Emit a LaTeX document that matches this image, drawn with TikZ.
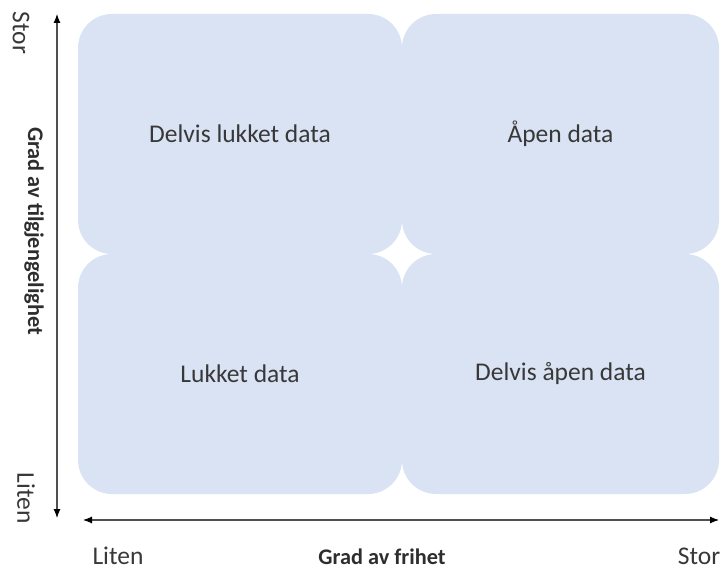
\documentclass[tikz,border=0pt]{standalone}
\usepackage{fontspec}
\setmainfont{Carlito}
\usetikzlibrary{arrows.meta}
\definecolor{quadfill}{HTML}{DAE3F3}
\definecolor{labeltext}{HTML}{383838}
\definecolor{axisline}{HTML}{505050}
\begin{document}
\begin{tikzpicture}[x=1pt,y=-1pt,
  quad/.style={fill=quadfill, rounded corners=34pt, inner sep=0pt,
    text=labeltext, font=\fontsize{25.5}{30}\selectfont},
  axisarrow/.style={axisline, line width=1.1pt,
    {Latex[length=9pt,width=7pt,black]}-{Latex[length=9pt,width=7pt,black]}},
  axislabel/.style={text=labeltext, font=\fontsize{25.5}{30}\selectfont, inner sep=0pt},
  axistitle/.style={text=labeltext!80!black, inner sep=0pt,
    font=\fontsize{22.3}{27}\selectfont\bfseries}]
  \useasboundingbox (0,0) rectangle (721,572);

  % four quadrants
  \node[quad, minimum width=324pt, minimum height=240pt] (tl) at (240,134) {Delvis lukket data};
  \node[quad, minimum width=317pt, minimum height=240pt] (tr) at (560.5,134) {Åpen data};
  \node[quad, minimum width=324pt, minimum height=240pt] (bl) at (240,374) {Lukket data};
  \node[quad, minimum width=317pt, minimum height=240pt] (br) at (560.5,374) {Delvis åpen data};

  % axes
  \coordinate (vtop) at (57,14);
  \coordinate (vbot) at (57,518);
  \coordinate (hleft) at (83,520);
  \coordinate (hright) at (719,520);
  \draw[axisarrow] (vbot) -- (vtop);
  \draw[axisarrow] (hleft) -- (hright);

  % vertical axis labels
  \node[axislabel, rotate=-90] (ystor) at (21,33) {Stor};
  \node[axistitle, rotate=-90] (ytitle) at (34,231) {Grad av tilgjengelighet};
  \node[axislabel, rotate=-90] (yliten) at (26,498) {Liten};

  % horizontal axis labels
  \node[axislabel] (xliten) at (118,556) {Liten};
  \node[axistitle] (xtitle) at (382,557) {Grad av frihet};
  \node[axislabel] (xstor) at (699,556) {Stor};
\end{tikzpicture}
\end{document}
